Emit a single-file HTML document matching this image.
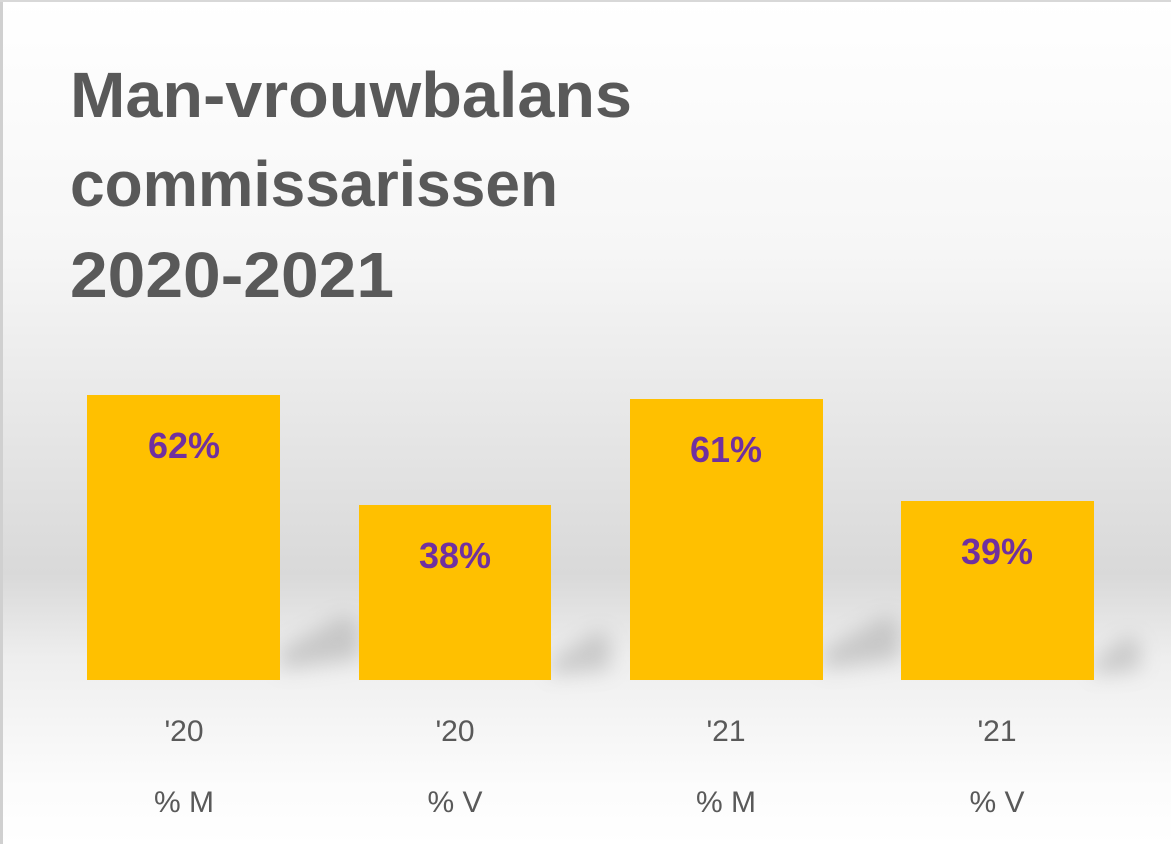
<!DOCTYPE html>
<html><head><meta charset="utf-8"><style>
html,body{margin:0;padding:0;width:1171px;height:844px;overflow:hidden;background:#fff}
</style></head><body>
<svg width="1171" height="844" xmlns="http://www.w3.org/2000/svg" style="font-family:'Liberation Sans',sans-serif">
<defs>
<linearGradient id="bg" x1="0" y1="0" x2="0" y2="1">
<stop offset="0" stop-color="#ffffff"/>
<stop offset="0.3" stop-color="#f6f6f6"/>
<stop offset="0.68" stop-color="#d9d9d9"/>
<stop offset="0.78" stop-color="#eeeeee"/>
<stop offset="0.92" stop-color="#fbfbfb"/>
<stop offset="1" stop-color="#ffffff"/>
</linearGradient>
<filter id="blur" x="-50%" y="-50%" width="200%" height="200%"><feGaussianBlur stdDeviation="10"/></filter>
</defs>
<rect x="0" y="0" width="1171" height="844" fill="url(#bg)"/>
<rect x="0" y="0" width="3" height="844" fill="#d0d0d0"/>
<rect x="0" y="0" width="1171" height="2" fill="#d8d8d8"/>
<g fill="#888" opacity="0.35" filter="url(#blur)">
<polygon points="280,670 280,650 345,615 360,625 360,660"/>
<polygon points="551,675 551,660 600,630 610,640 610,670"/>
<polygon points="823,670 823,650 888,615 900,625 900,660"/>
<polygon points="1094,675 1094,660 1130,635 1140,645 1140,670"/>
</g>
<g fill="#595959" font-weight="bold" font-size="64">
<text x="70" y="117" textLength="562" lengthAdjust="spacingAndGlyphs">Man-vrouwbalans</text>
<text x="70" y="206" textLength="488" lengthAdjust="spacingAndGlyphs">commissarissen</text>
<text x="70" y="297" textLength="324" lengthAdjust="spacingAndGlyphs">2020-2021</text>
</g>
<g fill="#ffc000">
<rect x="87" y="395" width="193" height="285"/>
<rect x="359" y="505" width="192" height="175"/>
<rect x="630" y="399" width="193" height="281"/>
<rect x="901" y="501" width="193" height="179"/>
</g>
<g fill="#7030a0" font-weight="bold" font-size="36" text-anchor="middle">
<text x="184" y="458">62%</text>
<text x="455" y="568">38%</text>
<text x="726" y="462">61%</text>
<text x="997" y="564">39%</text>
</g>
<g fill="#595959" font-size="30" text-anchor="middle">
<text x="184" y="741">'20</text>
<text x="455" y="741">'20</text>
<text x="726" y="741">'21</text>
<text x="997" y="741">'21</text>
<text x="184" y="812">% M</text>
<text x="455" y="812">% V</text>
<text x="726" y="812">% M</text>
<text x="997" y="812">% V</text>
</g>
</svg>
</body></html>
